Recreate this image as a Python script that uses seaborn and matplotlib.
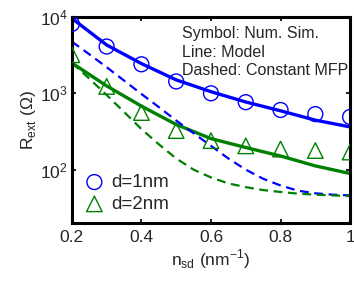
import numpy as np
import pandas as pd
import seaborn as sns
import matplotlib.pyplot as plt

# values
n_sd = [0.2, 0.3, 0.4, 0.5, 0.6, 0.7, 0.8, 0.9, 1.0]

sim_d1 = [8100, 4100, 2400, 1430, 1000, 765, 605, 534, 490]
sim_d2 = [3200, 1230, 560, 325, 240, 205, 186, 178, 170]

model_d1 = [9600, 4300, 2450, 1500, 1050, 770, 590, 445, 363]
model_d2 = [2500, 1250, 680, 390, 255, 195, 151, 112, 89]

# constant-MFP curves read on a finer grid
n_fine = [0.2, 0.25, 0.3, 0.35, 0.4, 0.45, 0.5, 0.55, 0.6,
          0.65, 0.7, 0.75, 0.8, 0.85, 0.9, 0.95, 1.0]
mfp_d1 = [4750, 3250, 2200, 1470, 980, 660, 440, 300, 205,
          140, 100, 76, 62, 53, 49, 47, 46]
mfp_d2 = [2500, 1560, 950, 570, 340, 215, 140, 100, 79,
          66, 59, 54, 51, 48.5, 47, 46, 45]

BLUE = "#0000ff"
GREEN = "#008000"

sns.set_style("ticks")
plt.rcParams['font.family'] = ['Liberation Sans', 'DejaVu Sans']
plt.rcParams['mathtext.fontset'] = 'custom'
plt.rcParams['mathtext.rm'] = 'Liberation Sans'

fig = plt.figure(figsize=(3.54, 2.83), dpi=100)
ax = fig.add_axes([0.203, 0.212, 0.786, 0.728])

# model lines
sns.lineplot(x=n_sd, y=model_d1, ax=ax, color=BLUE, lw=2.4)
sns.lineplot(x=n_sd, y=model_d2, ax=ax, color=GREEN, lw=2.4)
# constant mfp
sns.lineplot(x=n_fine, y=mfp_d1, ax=ax, color=BLUE, lw=1.6, linestyle=(0, (4, 2.5)))
sns.lineplot(x=n_fine, y=mfp_d2, ax=ax, color=GREEN, lw=1.6, linestyle=(0, (4, 2.5)))

# simulation symbols
sns.scatterplot(x=n_sd, y=sim_d1, ax=ax, marker='o', s=115, facecolor='none',
                edgecolor=BLUE, linewidth=1.0, label='d=1nm', zorder=3)
sns.scatterplot(x=n_sd, y=sim_d2, ax=ax, marker='^', s=125, facecolor='none',
                edgecolor=GREEN, linewidth=1.0, label='d=2nm', zorder=3)

ax.set_yscale('log')
ax.set_xlim(0.2, 1.0)
ax.set_ylim(20, 1e4)
ax.set_xticks([0.2, 0.4, 0.6, 0.8, 1.0])
ax.set_xticklabels(['0.2', '0.4', '0.6', '0.8', '1'])
ax.set_yticks([1e2, 1e3, 1e4])
ax.yaxis.set_minor_locator(plt.NullLocator())
ax.tick_params(direction='in', length=3, width=1.5, top=True, right=True,
               labelsize=12.5, pad=5)
ax.tick_params(axis='y', pad=3)
for sp in ax.spines.values():
    sp.set_linewidth(2.2)
    sp.set_color('black')

ax.set_xlabel(r'n$_{\mathregular{sd}}$ (nm$^{\mathregular{-1}}$)', fontsize=12.5, labelpad=2)
ax.set_ylabel(r'R$_{\mathregular{ext}}$ ($\Omega$)', fontsize=12.5, labelpad=1)

ax.text(0.395, 0.955, 'Symbol: Num. Sim.', transform=ax.transAxes, fontsize=11.5, va='top')
ax.text(0.395, 0.865, 'Line: Model', transform=ax.transAxes, fontsize=11.5, va='top')
ax.text(0.395, 0.775, 'Dashed: Constant MFP', transform=ax.transAxes, fontsize=11.5, va='top')

ax.legend(loc='lower left', frameon=False, fontsize=13.5, handletextpad=0.3,
          borderaxespad=0.2, labelspacing=0.25, handlelength=1.2,
          bbox_to_anchor=(0.0, -0.005))

fig.savefig('out.png', dpi=100)
